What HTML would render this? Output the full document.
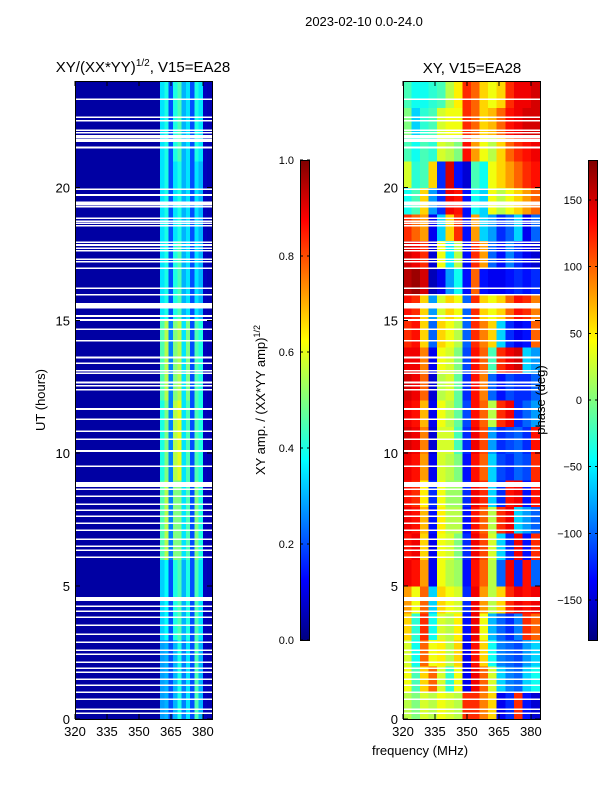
<!DOCTYPE html>
<html><head><meta charset="utf-8"><style>
body{margin:0;background:#fff;}
svg{display:block;font-family:"Liberation Sans","DejaVu Sans",sans-serif;}
</style></head><body>
<svg id="c" width="600" height="800" viewBox="0 0 600 800" shape-rendering="crispEdges">
<rect width="600" height="800" fill="#fff"/>
<text x="364" y="26" font-size="13" text-anchor="middle">2023-02-10 0.0-24.0</text>
<text x="143" y="72" font-size="15" text-anchor="middle">XY/(XX*YY)<tspan font-size="10" dy="-6">1/2</tspan><tspan dy="6">, V15=EA28</tspan></text>
<text x="472" y="73" font-size="15" text-anchor="middle">XY, V15=EA28</text>
<text x="45" y="400" font-size="13" text-anchor="middle" transform="rotate(-90 45 400)">UT (hours)</text>
<text x="420" y="755" font-size="13" text-anchor="middle">frequency (MHz)</text>
<text x="265" y="400" font-size="13" text-anchor="middle" transform="rotate(-90 265 400)">XY amp. / (XX*YY amp)<tspan font-size="9" dy="-5">1/2</tspan></text>
<g id="left"></g>
<g id="right"></g>
<g id="axes"></g>
<text x="545" y="400" font-size="13" text-anchor="middle" transform="rotate(-90 545 400)">phase (deg)</text>
</svg>
<script>
const ampFreqStart = 320, ampFreqStep = 2, ampTimeStep = 3;
const ampValues = [
[0.035,0.035,0.035,0.035,0.035,0.035,0.035,0.035,0.035,0.035,0.035,0.035,0.035,0.035,0.035,0.035,0.035,0.035,0.035,0.035,0.28,0.3,0.2,0.3,0.4,0.25,0.35,0.2,0.45,0.3,0.06,0.05],
[0.035,0.035,0.035,0.035,0.035,0.035,0.035,0.035,0.035,0.035,0.035,0.035,0.035,0.035,0.035,0.035,0.035,0.035,0.035,0.035,0.33,0.38,0.2,0.4,0.45,0.3,0.4,0.2,0.45,0.35,0.06,0.05],
[0.035,0.035,0.035,0.035,0.035,0.035,0.035,0.035,0.035,0.035,0.035,0.035,0.035,0.035,0.035,0.035,0.035,0.035,0.035,0.035,0.45,0.55,0.25,0.5,0.5,0.35,0.45,0.2,0.5,0.4,0.06,0.05],
[0.035,0.035,0.035,0.035,0.035,0.035,0.035,0.035,0.035,0.035,0.035,0.035,0.035,0.035,0.035,0.035,0.035,0.035,0.035,0.035,0.4,0.5,0.25,0.55,0.6,0.35,0.45,0.2,0.45,0.4,0.06,0.05],
[0.035,0.035,0.035,0.035,0.035,0.035,0.035,0.035,0.035,0.035,0.035,0.035,0.035,0.035,0.035,0.035,0.035,0.035,0.035,0.035,0.45,0.55,0.25,0.5,0.55,0.35,0.5,0.2,0.45,0.4,0.06,0.05],
[0.035,0.035,0.035,0.035,0.035,0.035,0.035,0.035,0.035,0.035,0.035,0.035,0.035,0.035,0.035,0.035,0.035,0.035,0.035,0.035,0.35,0.4,0.2,0.4,0.45,0.3,0.35,0.2,0.35,0.3,0.06,0.05],
[0.035,0.035,0.035,0.035,0.035,0.035,0.035,0.035,0.035,0.035,0.035,0.035,0.035,0.035,0.035,0.035,0.035,0.035,0.035,0.035,0.35,0.4,0.2,0.35,0.4,0.3,0.35,0.2,0.35,0.3,0.06,0.05],
[0.035,0.035,0.035,0.035,0.035,0.035,0.035,0.035,0.035,0.035,0.035,0.035,0.035,0.035,0.035,0.035,0.035,0.035,0.035,0.035,0.35,0.4,0.2,0.4,0.45,0.3,0.35,0.2,0.4,0.35,0.06,0.05]
];
const phaseFreqStart = 320, phaseFreqStep = 4, phaseTimeStep = 1;
const phaseValues = [
[20,0,30,20,40,30,20,120,120,90,60,-140,-120,120,-130,-150],
[40,-20,60,100,30,-30,40,-140,140,100,30,-60,-90,-100,-60,-40],
[30,-40,100,40,50,20,60,-140,130,60,-40,-90,-100,-110,-80,-60],
[60,-30,120,-40,30,20,50,-130,140,40,-70,-100,-120,-90,120,100],
[80,40,100,-60,60,40,30,-120,140,80,20,60,120,140,130,140],
[140,130,80,-140,40,20,10,-130,130,100,20,-100,140,-120,130,-100],
[130,140,60,-140,40,30,0,-120,140,110,30,-60,-120,140,-130,120],
[140,130,70,-130,50,20,20,-130,130,100,20,120,140,-60,-80,-100],
[130,120,50,-120,40,10,10,-120,140,120,-60,-120,130,140,-130,130],
[140,130,80,-140,30,20,0,-130,130,100,-60,-110,-120,-100,-110,120],
[150,140,90,-150,30,30,-20,-120,140,110,-80,-120,-110,-100,-120,130],
[140,130,70,-140,40,20,-10,-110,130,100,20,120,140,-120,-100,-80],
[150,140,100,-150,20,30,-10,-120,130,90,-100,-130,-110,-120,-120,-100],
[140,140,90,-140,40,30,0,-110,130,100,-20,120,140,150,-60,-80],
[120,130,60,-100,60,40,20,-100,120,90,60,-60,-120,-140,-130,100],
[130,120,60,-80,30,60,40,-100,120,60,40,60,100,130,120,90],
[160,170,150,-160,-140,-80,-40,-130,100,-130,-140,-140,-130,-120,-130,-120],
[150,140,120,-150,40,-50,20,-130,120,80,-100,-130,-90,-120,-140,-150],
[120,100,80,-140,-60,60,120,-130,80,-60,-80,-120,-100,-60,-140,-100],
[-40,-20,60,-80,-120,140,130,-130,-40,-60,40,20,40,60,80,100],
[30,-30,-20,60,-120,150,-130,-150,-20,-40,40,60,80,100,120,130],
[-20,-40,-20,-30,30,20,0,130,80,40,20,60,100,120,130,140],
[0,-60,-30,-20,30,40,40,120,100,60,70,100,130,140,150,150],
[-20,-40,-40,-30,-20,20,50,120,100,60,40,60,120,140,140,150]
];
const gapStart = [0.19,0.34,0.71,0.98,1.24,1.47,1.73,1.88,2.11,2.41,2.56,2.86,3.16,3.5,3.8,4.03,4.21,4.44,6.06,6.32,6.47,6.73,7.07,7.34,7.6,7.83,8.05,8.35,8.62,8.73,9.48,10.05,10.5,10.8,11.25,11.63,12.35,12.5,12.63,12.98,13.07,13.36,13.57,14.2,14.63,14.98,15.13,15.45,15.93,16.18,16.93,17.17,17.27,17.58,17.68,17.8,17.9,18.52,18.62,18.69,18.81,19.25,19.34,19.4,19.68,19.9,21.47,21.7,21.76,21.84,21.9,22.03,22.12,22.47,22.6,23.29];
const gapEnd   = [0.25,0.40,0.77,1.04,1.30,1.53,1.79,1.94,2.17,2.47,2.62,2.92,3.22,3.56,3.86,4.09,4.27,4.59,6.12,6.38,6.53,6.79,7.13,7.40,7.66,7.89,8.11,8.41,8.68,8.92,9.54,10.11,10.56,10.86,11.31,11.69,12.41,12.56,12.69,13.04,13.13,13.42,13.63,14.26,14.69,15.04,15.19,15.64,15.99,16.24,16.99,17.23,17.33,17.64,17.74,17.86,17.96,18.58,18.68,18.75,18.87,19.31,19.40,19.46,19.74,19.96,21.53,21.76,21.82,21.90,21.96,22.09,22.18,22.53,22.66,23.35];
const yTicks = [0,5,10,15,20];
const xTicks = [320,335,350,365,380];
const ampTicks = [0.0,0.2,0.4,0.6,0.8,1.0];
const phaseTicks = [-150,-100,-50,0,50,100,150];

const NS="http://www.w3.org/2000/svg";
const T0=0,T1=24,F0=320,F1=384.3,TOP=81,BOT=719,W=137;
const panels={left:75,right:403};
function yS(h){return BOT-(h-T0)/(T1-T0)*(BOT-TOP);}
function xS(p,f){return panels[p]+(f-F0)/(F1-F0)*W;}
function jet(v){v=Math.max(0,Math.min(1,v));
 const c=x=>Math.round(255*Math.max(0,Math.min(1,x)));
 const r=c(Math.min(4*v-1.5,-4*v+4.5)),g=c(Math.min(4*v-0.5,-4*v+3.5)),b=c(Math.min(4*v+0.5,-4*v+2.5));
 return `rgb(${r},${g},${b})`;}
function mk(tag,attrs,parent){const e=document.createElementNS(NS,tag);for(const k in attrs)e.setAttribute(k,attrs[k]);parent.appendChild(e);return e;}
const L=document.getElementById('left'),R=document.getElementById('right'),A=document.getElementById('axes');
ampValues.forEach((row,i)=>row.forEach((v,j)=>{
 const x0=xS('left',ampFreqStart+j*ampFreqStep),x1=xS('left',Math.min(F1,ampFreqStart+(j+1)*ampFreqStep));
 const y0=yS((i+1)*ampTimeStep),y1=yS(i*ampTimeStep);
 const r=mk('rect',{x:x0,y:y0,width:x1-x0+0.6,height:y1-y0+0.6,fill:jet(v)},L);
 
 
}));
phaseValues.forEach((row,i)=>row.forEach((v,j)=>{
 const x0=xS('right',phaseFreqStart+j*phaseFreqStep),x1=xS('right',Math.min(F1,phaseFreqStart+(j+1)*phaseFreqStep));
 const y0=yS((i+1)*phaseTimeStep),y1=yS(i*phaseTimeStep);
 const r=mk('rect',{x:x0,y:y0,width:x1-x0+0.6,height:y1-y0+0.6,fill:jet((v+180)/360)},R);
 
 
}));
gapStart.forEach((s,k)=>{['left','right'].forEach(p=>{
 const y0=yS(gapEnd[k]),y1=yS(s);
 const r=mk('rect',{x:panels[p],y:y0,width:W,height:Math.max(1.3,y1-y0),fill:'#fff'},p==='left'?L:R);
 
 
});});
['left','right'].forEach(p=>{
 const fr=mk('rect',{x:panels[p]+0.5,y:TOP+0.5,width:W,height:BOT-TOP,fill:'none',stroke:'#000','stroke-width':1},A);
 
 
 yTicks.forEach(t=>{const y=yS(t);
  mk('line',{x1:panels[p],x2:panels[p]+5,y1:y,y2:y,stroke:'#000'},A);
  mk('line',{x1:panels[p]+W-5,x2:panels[p]+W,y1:y,y2:y,stroke:'#000'},A);
  const tx=mk('text',{x:panels[p]-5,y:y+5,'font-size':13,'text-anchor':'end'},A);tx.textContent=t;
  
  
 });
 xTicks.forEach(t=>{const x=xS(p,t);
  mk('line',{x1:x,x2:x,y1:BOT,y2:BOT-5,stroke:'#000'},A);
  mk('line',{x1:x,x2:x,y1:TOP,y2:TOP+5,stroke:'#000'},A);
  const tx=mk('text',{x:x,y:BOT+17,'font-size':13,'text-anchor':'middle'},A);tx.textContent=t;
  
  
 });
});
function colorbar(x,name,ticks,lo,hi,fmt){
 const defs=mk('defs',{},A);const g=mk('linearGradient',{id:name+'g',x1:0,y1:1,x2:0,y2:0},defs);
 [[0,'#000080'],[0.125,'#0000ff'],[0.375,'#00ffff'],[0.625,'#ffff00'],[0.875,'#ff0000'],[1,'#800000']].forEach(s=>mk('stop',{offset:s[0],'stop-color':s[1]},g));
 const r=mk('rect',{x:x+0.5,y:160.5,width:9,height:480,fill:`url(#${name}g)`,stroke:'#000'},A);
 
 
 ticks.forEach(t=>{const y=640-(t-lo)/(hi-lo)*480;
  mk('line',{x1:x,x2:x+3,y1:y,y2:y,stroke:'#000'},A);mk('line',{x1:x+7,x2:x+10,y1:y,y2:y,stroke:'#000'},A);
  const tx=mk('text',{x:x-6,y:y+4,'font-size':11,'text-anchor':'end'},A);tx.textContent=fmt(t);
  
  
 });
}
colorbar(300,'amp-colorbar',ampTicks,0,1,t=>t.toFixed(1));
colorbar(588,'phase-colorbar',phaseTicks,-180,180,t=>t<0?'\u2212'+(-t):String(t));
</script>
</body></html>
